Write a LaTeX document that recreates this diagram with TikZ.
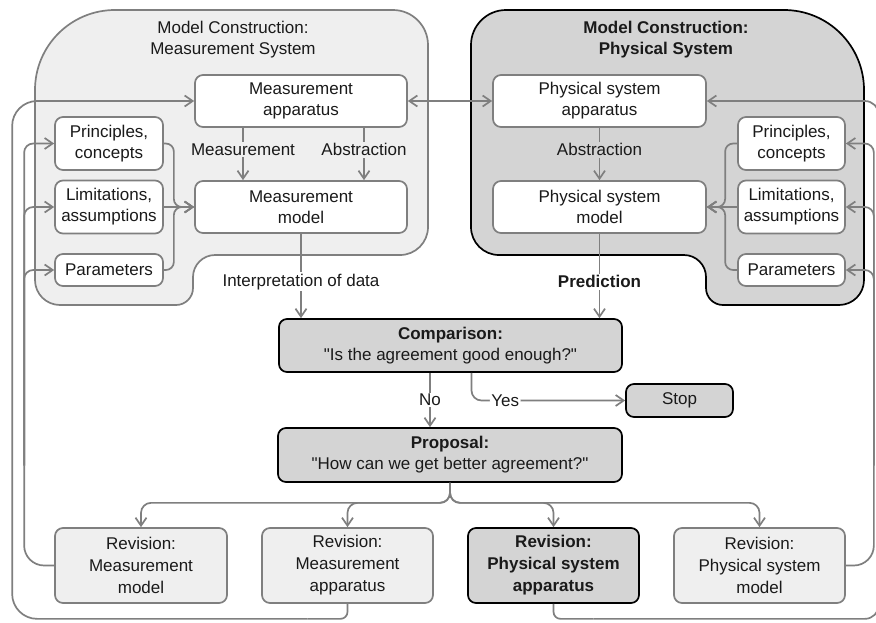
\documentclass[tikz,border=0pt]{standalone}
\usepackage{fontspec}
\setmainfont{Liberation Sans}[Ligatures=TeXOff]
\usetikzlibrary{arrows.meta,calc}
\definecolor{lg}{HTML}{7F7F7F}
\definecolor{fillA}{HTML}{EFEFEF}
\definecolor{fillB}{HTML}{D4D4D4}
\definecolor{txt}{HTML}{1A1A1A}
\begin{document}
\begin{tikzpicture}[x=1pt,y=-1pt,
  every node/.style={font=\fontsize{17}{21}\selectfont, text=txt, align=center, inner sep=0pt},
  bf/.style={font=\fontsize{17}{21}\selectfont\bfseries},
  box/.style={draw=lg, line width=1.7pt, rounded corners=8pt},
  wbox/.style={box, fill=white},
  abox/.style={box, fill=fillA},
  dbox/.style={box, draw=black, fill=fillB},
  ln/.style={draw=lg, line width=1.7pt},
  arr/.style={ln, -{Straight Barb[length=8pt,width=11pt]}},
  darr/.style={ln, {Straight Barb[length=8pt,width=11pt]}-{Straight Barb[length=8pt,width=11pt]}},
  lbl/.style={inner sep=1.5pt},
  lblA/.style={lbl, fill=fillA},
  lblB/.style={lbl, fill=fillB},
  lblW/.style={lbl, fill=white},
  rev/.style={font=\fontsize{17}{22}\selectfont},
  revbf/.style={font=\fontsize{17}{22}\selectfont\bfseries},
]
\fill[white] (0,0) rectangle (876,622);
\useasboundingbox (0,0) rectangle (876,622);

% regions
\draw[line width=1.7pt, draw=lg, fill=fillA]
  (115,10) -- (393,10) .. controls (412.3,10) and (428,25.7) .. (428,45)
  -- (428,227) .. controls (428,242.5) and (415.5,255) .. (400,255)
  -- (215,255) .. controls (202.9,255) and (193,264.9) .. (193,277)
  -- (193,288) .. controls (193,297.4) and (185.4,305) .. (176,305)
  -- (60,305) .. controls (46.2,305) and (35,293.8) .. (35,280)
  -- (35,90) .. controls (35,45.8) and (70.8,10) .. (115,10) -- cycle;
\begin{scope}[xshift=899pt, xscale=-1]
\draw[line width=1.7pt, draw=black, fill=fillB]
  (115,10) -- (393,10) .. controls (412.3,10) and (428,25.7) .. (428,45)
  -- (428,227) .. controls (428,242.5) and (415.5,255) .. (400,255)
  -- (215,255) .. controls (202.9,255) and (193,264.9) .. (193,277)
  -- (193,288) .. controls (193,297.4) and (185.4,305) .. (176,305)
  -- (60,305) .. controls (46.2,305) and (35,293.8) .. (35,280)
  -- (35,90) .. controls (35,45.8) and (70.8,10) .. (115,10) -- cycle;
\end{scope}

\node (t1) at (233,40) {Model Construction:\\Measurement System};
\node[bf] (t2) at (666,40) {Model Construction:\\Physical System};

% left boxes
\node[wbox, minimum width=212pt, minimum height=52pt] (mapp) at (301,101) {Measurement\\apparatus};
\node[wbox, minimum width=212pt, minimum height=52pt] (mmod) at (301,207) {Measurement\\model};
\node[wbox, minimum width=108pt, minimum height=53pt] (lpc) at (109,143.5) {Principles,\\concepts};
\node[wbox, minimum width=108pt, minimum height=53pt] (llim) at (109,207) {Limitations,\\assumptions};
\node[wbox, minimum width=108pt, minimum height=32pt] (lpar) at (109,270) {Parameters};
% right boxes
\node[wbox, minimum width=213pt, minimum height=52pt] (papp) at (599.5,101) {Physical system\\apparatus};
\node[wbox, minimum width=213pt, minimum height=52pt] (pmod) at (599.5,207) {Physical system\\model};
\node[wbox, minimum width=107pt, minimum height=53pt] (rpc) at (791.5,143.5) {Principles,\\concepts};
\node[wbox, minimum width=107pt, minimum height=53pt] (rlim) at (791.5,207) {Limitations,\\assumptions};
\node[wbox, minimum width=107pt, minimum height=32pt] (rpar) at (791.5,270) {Parameters};
% middle
\node[dbox, minimum width=343pt, minimum height=53pt] (comp) at (450.5,345.5) {\textbf{Comparison:}\\"Is the agreement good enough?"};
\node[dbox, minimum width=107pt, minimum height=33pt] (stop) at (679.5,400.5) {Stop};
\node[dbox, minimum width=344pt, minimum height=54pt] (prop) at (450,455) {\textbf{Proposal:}\\"How can we get better agreement?"};
% revisions
\node[abox, rev, minimum width=172pt, minimum height=75pt] (r1) at (141,565.5) {Revision:\\Measurement\\model};
\node[abox, rev, minimum width=171pt, minimum height=75pt] (r2) at (347.5,565.5) {Revision:\\Measurement\\apparatus};
\node[dbox, revbf, minimum width=171pt, minimum height=75pt] (r3) at (553.5,565.5) {Revision:\\Physical system\\apparatus};
\node[abox, rev, minimum width=171pt, minimum height=75pt] (r4) at (759.5,565.5) {Revision:\\Physical system\\model};

% connectors inside regions
\draw[arr] ([xshift=-58pt]mapp.south) -- node[lblA, pos=0.42]{Measurement} ([xshift=-58pt]mmod.north);
\draw[arr] ([xshift=63pt]mapp.south) -- node[lblA, pos=0.42]{Abstraction} ([xshift=63pt]mmod.north);
\draw[arr] (papp.south) -- node[lblB, pos=0.42]{Abstraction} (pmod.north);
\draw[darr] (mapp.east) -- (papp.west);

\draw[arr, rounded corners=8pt] (lpc.east) -- ++(10,0) |- (mmod.west);
\draw[arr] (llim.east) -- (mmod.west);
\draw[arr, rounded corners=8pt] (lpar.east) -- ++(10,0) |- (mmod.west);
\draw[arr, rounded corners=8pt] (rpc.west) -- ++(-12,0) |- (pmod.east);
\draw[arr] (rlim.west) -- (pmod.east);
\draw[arr, rounded corners=8pt] (rpar.west) -- ++(-12,0) |- (pmod.east);

% to comparison
\draw[arr] (mmod.south) -- node[lblW, pos=0.57]{Interpretation of data} (mmod.south |- comp.north);
\draw[arr] (pmod.south) -- node[lblW, bf, pos=0.57]{Prediction} (pmod.south |- comp.north);
\draw[arr] ([xshift=-20.5pt]comp.south) -- node[lblW]{No} ([xshift=-20.5pt]comp.south |- prop.north);
\draw[arr, rounded corners=10pt] ([xshift=21pt]comp.south) |- node[lblW, pos=0.61]{Yes} (stop.west);

% proposal branches
\draw[arr, rounded corners=10pt] (prop.south) -- ++(0,20) -| (r1.north);
\draw[arr, rounded corners=10pt] (prop.south) -- ++(0,20) -| (r2.north);
\draw[arr, rounded corners=10pt] (prop.south) -- ++(0,20) -| (r3.north);
\draw[arr, rounded corners=10pt] (prop.south) -- ++(0,20) -| (r4.north);

% inner feedback left
\coordinate (lv) at ([xshift=-30pt,yshift=100pt]r1.west);
\draw[ln, rounded corners=20pt] (r1.west) -| (lv);
\draw[arr, rounded corners=9pt] (lv) |- (lpc.west);
\draw[arr, rounded corners=9pt] (lv) |- (llim.west);
\draw[arr, rounded corners=9pt] (lv) |- (lpar.west);
% inner feedback right
\coordinate (rv) at ([xshift=28pt,yshift=100pt]r4.east);
\draw[ln, rounded corners=20pt] (r4.east) -| (rv);
\draw[arr, rounded corners=9pt] (rv) |- (rpc.east);
\draw[arr, rounded corners=9pt] (rv) |- (rlim.east);
\draw[arr, rounded corners=9pt] (rv) |- (rpar.east);

% outer feedback left
\coordinate (lb) at ([yshift=-15pt]r2.south);
\draw[ln, rounded corners=7pt] (r2.south) -- (lb) -- ([xshift=-40pt]lb);
\draw[arr, rounded corners=25pt] ([xshift=-40pt]lb) -| ([xshift=-182pt]mapp.west) -- (mapp.west);
% outer feedback right
\coordinate (rb) at ([yshift=-15pt]r3.south);
\draw[ln, rounded corners=7pt] (r3.south) -- (rb) -- ([xshift=40pt]rb);
\draw[arr, rounded corners=14pt] ([xshift=40pt]rb) -| ([xshift=172pt]papp.east) -- (papp.east);
\end{tikzpicture}
\end{document}
